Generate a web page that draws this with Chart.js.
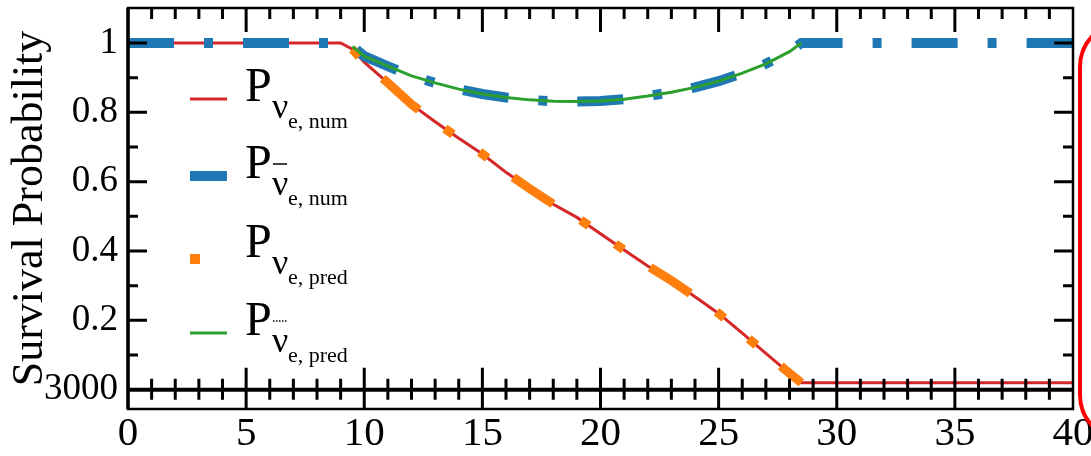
<!DOCTYPE html>
<html>
<head>
<meta charset="utf-8">
<script src="https://cdn.jsdelivr.net/npm/chart.js@4.4.1/dist/chart.umd.min.js"></script>
<style>
  html, body { margin: 0; padding: 0; background: #fff; }
  #wrap { width: 1091px; height: 456px; position: relative; }
</style>
</head>
<body>
<div id="wrap"><canvas id="myChart"></canvas></div>
<script>
const serif = '"Liberation Serif", "Times New Roman", serif';

// x values
const xValues = [0, 2, 4, 6, 8, 9, 9.5, 10, 11, 12, 13, 14, 15, 16, 17, 18, 19, 20, 21, 22, 23, 24, 25, 26, 27, 28, 28.5, 30, 32, 34, 36, 38, 40];

// P nu_e, num (red)
const nuNum = [1, 1, 1, 1, 1, 1, 0.982, 0.945, 0.885, 0.823, 0.773, 0.725, 0.68, 0.627, 0.58, 0.535, 0.497, 0.45, 0.403, 0.357, 0.315, 0.268, 0.22, 0.163, 0.105, 0.047, 0.02, 0.02, 0.02, 0.02, 0.02, 0.02, 0.02];
// P anti nu_e, num (blue)
const nuBarNum = [1, 1, 1, 1, 1, 1, 0.99, 0.962, 0.933, 0.905, 0.885, 0.867, 0.853, 0.843, 0.836, 0.832, 0.831, 0.833, 0.838, 0.847, 0.858, 0.872, 0.89, 0.913, 0.94, 0.975, 1, 1, 1, 1, 1, 1, 1];
// P nu_e, pred (orange)
const nuPred = [null, null, null, null, null, null, 0.982, 0.945, 0.885, 0.823, 0.773, 0.725, 0.68, 0.627, 0.58, 0.535, 0.497, 0.45, 0.403, 0.357, 0.315, 0.268, 0.22, 0.163, 0.105, 0.047, 0.02, null, null, null, null, null, null];
// P anti nu_e, pred (green)
const nuBarPred = [null, null, null, null, null, null, 0.99, 0.962, 0.933, 0.905, 0.885, 0.867, 0.853, 0.843, 0.836, 0.832, 0.831, 0.833, 0.838, 0.847, 0.858, 0.872, 0.89, 0.913, 0.94, 0.975, 1, null, null, null, null, null, null];

const yTickValues = [0, 0.2, 0.4, 0.6, 0.8, 1];
const yTickLabels = ['3000', '0.2', '0.4', '0.6', '0.8', '1'];

const legendSubs = ['e, num', 'e, num', 'e, pred', 'e, pred'];

const pts = arr => xValues.map((x, i) => ({ x: x, y: arr[i] }));

// frame, ticks, legend and the red box from the neighbouring panel
const decor = {
  id: 'decor',
  afterDraw(chart) {
    const ctx = chart.ctx;
    const a = chart.chartArea;
    const xs = chart.scales.x, ys = chart.scales.y;
    const y0 = ys.getPixelForValue(0);
    ctx.save();
    ctx.strokeStyle = '#000';
    ctx.lineCap = 'butt';

    // frame
    ctx.lineWidth = 2.5;
    ctx.strokeRect(a.left, a.top, a.right - a.left, a.bottom - a.top);
    ctx.lineWidth = 3.5;
    ctx.beginPath(); ctx.moveTo(a.left, a.top); ctx.lineTo(a.left, a.bottom); ctx.stroke();
    // zero line
    ctx.lineWidth = 4;
    ctx.beginPath(); ctx.moveTo(a.left, y0); ctx.lineTo(a.right, y0); ctx.stroke();

    ctx.lineWidth = 3;
    ctx.beginPath();
    for (let i = 1; i < 40; i++) {
      const px = xs.getPixelForValue(i);
      const major = i % 5 === 0;
      ctx.moveTo(px, a.top); ctx.lineTo(px, a.top + (major ? 24 : 11));
      if (major) { ctx.moveTo(px, y0 - 22); ctx.lineTo(px, a.bottom); }
      else { ctx.moveTo(px, y0 - 11); ctx.lineTo(px, y0 + 10); }
    }
    for (let i = 1; i <= 10; i++) {
      const py = ys.getPixelForValue(i / 10);
      const len = i % 2 === 0 ? 19 : 10;
      ctx.moveTo(a.left, py); ctx.lineTo(a.left + len, py);
      ctx.moveTo(a.right, py); ctx.lineTo(a.right - len, py);
    }
    ctx.stroke();

    // legend
    const baseY = [101, 178, 257, 335];
    const colors = ['#d62728', '#1f77b4', '#ff7f0e', '#2ca02c'];
    for (let k = 0; k < 4; k++) {
      const b = baseY[k];
      if (k === 2) {
        ctx.fillStyle = colors[k];
        ctx.fillRect(190, b - 3, 10, 10);
      } else {
        ctx.strokeStyle = colors[k];
        ctx.lineWidth = k === 1 ? 10 : 3;
        ctx.beginPath(); ctx.moveTo(190, b - 2); ctx.lineTo(227, b - 2); ctx.stroke();
      }
      ctx.fillStyle = '#000';
      ctx.textBaseline = 'alphabetic';
      ctx.font = '48px ' + serif;
      ctx.fillText('P', 245, b);
      ctx.font = '36px ' + serif;
      ctx.fillText('\u03bd', 272, b + 17);
      ctx.font = '22px ' + serif;
      ctx.fillText(legendSubs[k], 288, b + 27);
      if (k === 1 || k === 3) {
        ctx.strokeStyle = '#000';
        ctx.lineWidth = 1.5;
        ctx.setLineDash(k === 3 ? [1.5, 1.5] : []);
        ctx.beginPath(); ctx.moveTo(273, b - 14); ctx.lineTo(287, b - 14); ctx.stroke();
        ctx.setLineDash([]);
      }
    }

    // red rounded box at the right edge
    ctx.strokeStyle = '#ff0000';
    ctx.lineWidth = 4;
    const bx = 1080, by = 22, bw = 80, bh = 418, r = 45;
    ctx.beginPath();
    ctx.moveTo(bx + bw, by);
    ctx.lineTo(bx + r, by);
    ctx.arcTo(bx, by, bx, by + r, r);
    ctx.lineTo(bx, by + bh - r);
    ctx.arcTo(bx, by + bh, bx + r, by + bh, r);
    ctx.lineTo(bx + bw, by + bh);
    ctx.stroke();
    ctx.restore();
  }
};

const ctx = document.getElementById('myChart');

new Chart(ctx, {
  type: 'line',
  data: {
    datasets: [
      {
        label: 'P_nu_e,num',
        data: pts(nuNum),
        borderColor: '#d62728',
        borderWidth: 3,
        pointRadius: 0,
        order: 4
      },
      {
        label: 'P_antinu_e,num',
        data: pts(nuBarNum),
        borderColor: '#1f77b4',
        borderWidth: 10,
        borderDash: [46, 30, 9, 30],
        borderCapStyle: 'butt',
        pointRadius: 0,
        order: 3
      },
      {
        label: 'P_nu_e,pred',
        data: pts(nuPred),
        borderColor: '#ff7f0e',
        borderWidth: 9,
        borderDash: [48, 32, 10, 32, 10, 32],
        borderDashOffset: 122,
        borderCapStyle: 'butt',
        pointRadius: 0,
        order: 2
      },
      {
        label: 'P_antinu_e,pred',
        data: pts(nuBarPred),
        borderColor: '#2ca02c',
        borderWidth: 3,
        pointRadius: 0,
        order: 1
      }
    ]
  },
  options: {
    responsive: true,
    maintainAspectRatio: false,
    animation: false,
    layout: { padding: { top: 8, right: 18, left: 0, bottom: 0 } },
    plugins: {
      legend: { display: false },
      tooltip: { enabled: false }
    },
    scales: {
      x: {
        type: 'linear',
        min: 0,
        max: 40,
        ticks: {
          stepSize: 5,
          autoSkip: false,
          maxRotation: 0,
          padding: 1,
          color: '#000',
          font: { family: serif, size: 41 }
        },
        grid: { display: false, drawTicks: false },
        border: { display: false },
        afterFit(s) { s.height = 47; s.paddingLeft = 0; s.paddingRight = 0; }
      },
      y: {
        min: -0.0557,
        max: 1.101,
        afterBuildTicks(s) { s.ticks = yTickValues.map(v => ({ value: v })); },
        ticks: {
          padding: 10,
          color: '#000',
          font: { family: serif, size: 37 },
          callback: (v, i) => yTickLabels[i]
        },
        grid: { display: false, drawTicks: false },
        border: { display: false },
        title: {
          display: true,
          text: 'Survival Probability',
          color: '#000',
          font: { family: serif, size: 44 },
          padding: { top: 4, bottom: 0 }
        },
        afterFit(s) { s.width = 128; s.paddingTop = 0; s.paddingBottom = 0; }
      }
    }
  },
  plugins: [decor]
});
</script>
</body>
</html>
